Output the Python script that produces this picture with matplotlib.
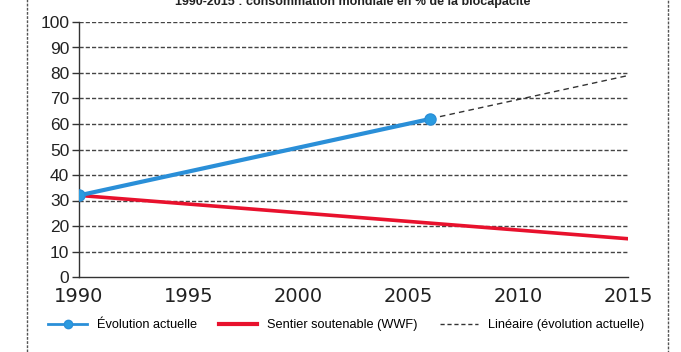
import matplotlib
matplotlib.use('Agg')
import matplotlib.pyplot as plt
from matplotlib.lines import Line2D
from matplotlib.patches import Rectangle

# Series values
years_actual = [1990, 2006]
values_actual = [32, 62]
years_sustainable = [1990, 2015]
values_sustainable = [32, 15]
years_trend = [1990, 2015]
values_trend = [32, 79]

x_ticks = [1990, 1995, 2000, 2005, 2010, 2015]
y_ticks = list(range(0, 101, 10))

labels = ["Évolution actuelle",
          "Sentier soutenable (WWF)",
          "Linéaire (évolution actuelle)"]
title = "1990-2015 : consommation mondiale en % de la biocapacité"

font = ['Liberation Sans', 'DejaVu Sans']

fig = plt.figure(figsize=(6.81, 3.52), dpi=100)
ax = fig.add_axes([79 / 681, 1 - 277 / 352, (628 - 79) / 681, (277 - 22) / 352])

blue = '#2a8fd8'
red = '#e8112d'

ax.plot(years_trend, values_trend, color='#333333', lw=1.0,
        linestyle=(0, (4, 3)), zorder=2)
ax.plot(years_sustainable, values_sustainable, color=red, lw=2.6, zorder=3)
ax.plot(years_actual, values_actual, color=blue, lw=3, marker='o',
        markersize=8, markerfacecolor='#2a9be0', markeredgecolor=blue, zorder=4)

ax.set_xlim(1990, 2015)
ax.set_ylim(0, 100)
ax.set_xticks(x_ticks)
ax.set_yticks(y_ticks)
ax.set_xticklabels([str(x) for x in x_ticks], fontsize=14, color='#222222')
ax.set_yticklabels([str(y) for y in y_ticks], fontsize=12.5, family=font,
                   color='#222222')
ax.tick_params(axis='x', length=0, pad=7)
ax.tick_params(axis='y', length=5, width=1, color='#333333', pad=2)

for y in y_ticks[1:]:
    ax.axhline(y, color='#444444', lw=1.0, linestyle=(0, (3, 1.5)), zorder=1)

for side in ('top', 'right'):
    ax.spines[side].set_visible(False)
for side in ('left', 'bottom'):
    ax.spines[side].set_color('#333333')
    ax.spines[side].set_linewidth(1.0)

handles = [
    Line2D([0], [0], color=blue, lw=2, marker='o', markersize=6,
           markerfacecolor='#2a9be0', markeredgecolor=blue),
    Line2D([0], [0], color=red, lw=3),
    Line2D([0], [0], color='#333333', lw=1, linestyle=(0, (3, 2))),
]
fig.legend(handles, labels, loc='center left', bbox_to_anchor=(42 / 681, 1 - 325 / 352),
           ncol=3, frameon=False, handlelength=3.0, handletextpad=0.8,
           columnspacing=1.7, borderpad=0, prop={'family': font, 'size': 9.2})

# title only partly visible at the top edge
fig.text(353 / 681, 1.0 - 2 / 352, title, ha='center', va='center', fontsize=9,
         fontweight='bold', family=font, color='#222222')

# dashed frame around the whole chart
frame = Rectangle((27 / 681, -0.05), (668 - 27) / 681, 1.1, transform=fig.transFigure,
                  fill=False, edgecolor='#555555', lw=1.0, linestyle=(0, (2, 1)))
fig.patches.append(frame)

fig.savefig('out.png', dpi=100)
